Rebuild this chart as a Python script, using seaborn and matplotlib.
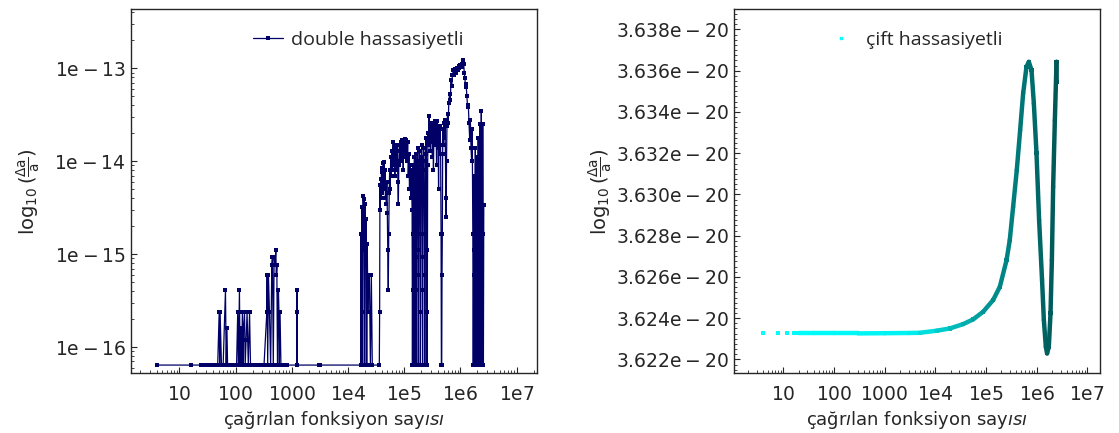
import numpy as np
import matplotlib
matplotlib.use("Agg")
import matplotlib.pyplot as plt
import seaborn as sns
from matplotlib.collections import LineCollection
from matplotlib.colors import LinearSegmentedColormap, Normalize
from matplotlib.lines import Line2D
from matplotlib.ticker import FixedLocator, FuncFormatter, LogLocator, NullFormatter, MultipleLocator


# double precision run: relative error vs number of calls
# (calls with zero error are not drawn on the log axis)
F = 6.4e-17  # smallest non-zero error level

low_calls = [
    4, 16, 24, 28, 32, 36, 40, 44, 48, 51, 52, 53, 56, 60, 66, 68, 70, 72, 80, 88,
    96, 104, 109, 112, 117, 120, 124, 128, 132, 136, 138, 144, 148, 154, 160, 168,
    177, 184, 208, 240, 280, 320, 359, 364, 372, 384, 400, 420, 440, 452, 468, 484,
    500, 519, 530, 541, 556, 578, 590, 600, 617, 640, 700, 813, 1228, 1232, 1236,
    1240, 3090, 3200,
]
low_err = [
    F, F, F, F, F, F, F, F, F, 2.36e-16, F, 2.36e-16, F, F, 4.1e-16, F, 1.62e-16, F, F, F,
    F, F, 2.36e-16, F, 4.1e-16, F, 1.62e-16, F, 2.36e-16, F, 1.55e-16, 2.36e-16, F,
    1.2e-16, 2.36e-16, F,
    2.36e-16, F, F, F, F, F, 2.36e-16, 5.9e-16, F, 5.9e-16, 2.36e-16, F, 7.6e-16,
    9.3e-16, F, 9.3e-16,
    7.6e-16, 1.1e-15, 5.9e-16, 7.6e-16, F, 4.1e-16, 2.36e-16, F, 2.36e-16, F, F, F,
    F, 4.1e-16, 2.36e-16,
    F, F, F,
]

mid_calls = [
    16800, 16900, 17100, 17400, 17800, 18200, 18600, 19000, 19400, 19800, 20200,
    20600, 21000, 21500, 22000, 22500, 23000, 24000, 25000, 26000, 27000,
    36000, 36500, 37000, 37500, 38000, 38700, 39400, 40100, 40800, 41500, 42300,
    43100, 43900, 44700, 45500, 46300, 47200, 48100, 49000, 50000, 51000, 52000,
    53000, 54000, 55000, 56000, 57500, 59000, 60500, 62000, 63500, 65000, 66500,
    68000, 69500, 71000, 72500, 74000, 75500, 77000, 78500, 80000, 82000, 84000,
    86000, 88000, 90000, 92000, 94000, 96000, 98000, 100000, 103000, 106000,
    109000, 112000, 115000, 118000, 121000, 124000, 127000, 130000, 134000, 138000,
]
mid_err = [
    F, 1.66e-15, F, 2.36e-16, 3.2e-15, F, 4.2e-15, 1.1e-15, 3.9e-15, F, 3.5e-15,
    7.6e-16, 2.4e-15, F, 1.3e-15, 2.36e-16, 5.9e-16, 5.9e-16, F, 5.9e-16, F,
    F, 2.36e-16, 5.6e-15, 3e-15, 6.5e-15, 4e-15, 7.6e-15, 4.5e-15, 8.5e-15, 5e-15,
    9.5e-15,
    6e-15, 9.8e-15, 5.5e-15, 8e-15, 4e-15, 6e-15, 3.5e-15, 6e-15, 2.8e-15, 1.1e-15,
    4.1e-16,
    1.66e-15, 4.5e-15, 8e-15, 5e-15, 1.1e-14, 7e-15, 1.3e-14, 8e-15, 1.6e-14, 9e-15,
    1.4e-14,
    7e-15, 1.5e-14, 9e-15, 1.4e-14, 8e-15, 1.3e-14, 6e-15, 3.5e-15, 9e-15, 1.5e-14,
    1e-14,
    1.6e-14, 1.1e-14, 1.7e-14, 1e-14, 1.5e-14, 8e-15, 1.7e-14, 1.1e-14, 1.75e-14,
    1.2e-14,
    1.7e-14, 1e-14, 1.6e-14, 7e-15, 1.2e-14, 5e-15, 9e-15, 4e-15, 8e-15, 3e-15,
]

high_calls = [
    140000, 141000, 142000, 143500, 145000, 146500, 147500, 148500, 150000, 152000,
    154000, 155000, 156500, 158000, 160000, 162000, 164000, 165500, 167000, 169000,
    171000, 173000, 175500, 177500, 179000, 181000, 183000, 186000, 189000, 192000,
    194000, 196000, 198000, 201000, 204000, 207000, 210000, 212000, 214000, 217000,
    221000, 225000, 229000, 232000, 235000, 239000, 243000, 247000, 251000, 254000,
    257000, 261000, 265000, 270000, 275000, 280000, 286000, 292000, 298000, 304000,
    310000, 317000, 324000, 331000, 338000, 345000, 352000, 360000, 368000, 376000,
    384000, 392000, 400000, 408000, 416000, 425000, 434000, 443000, 452000, 458000,
    464000, 470000, 476000, 482000, 490000, 500000, 510000, 520000, 530000, 540000,
    550000, 557000, 565000, 575000, 590000, 605000, 620000, 640000, 660000, 680000,
    700000, 720000, 750000, 780000, 810000, 840000, 870000, 900000, 930000, 960000,
    990000, 1020000, 1050000, 1080000, 1110000, 1140000, 1170000, 1200000, 1230000,
    1260000, 1300000, 1340000, 1380000, 1420000, 1460000, 1500000, 1540000, 1580000,
    1620000, 1660000, 1690000, 1710000, 1740000, 1770000, 1790000, 1810000, 1840000,
    1870000, 1890000, 1920000, 1950000, 1980000, 2000000, 2030000, 2070000, 2110000,
    2140000, 2170000, 2210000, 2250000, 2280000, 2310000, 2350000, 2390000, 2420000,
    2450000, 2490000, 2530000, 2560000, 2600000,
]
high_err = [
    F, 4.1e-16, 1.66e-15, 9e-15, 5e-15, 1.1e-15, F, 5.9e-16, 7e-15, 1.1e-14,
    2.36e-16, F, 1.66e-15, 6e-15, 1.2e-14, 8e-15, 9.3e-16, F, 4.1e-16, 5e-15,
    1e-14, 1.4e-14, 7e-15, 1.1e-15, F, 5.9e-16, 8e-15, 1.3e-14, 1e-14, 1.66e-15,
    F, 2.36e-16, 6e-15, 1.1e-14, 1.5e-14, 9e-15, 9.3e-16, F, 4.1e-16, 8e-15,
    1.4e-14, 1e-14, 1.66e-15, F, 5.9e-16, 1e-14, 1.8e-14, 1.2e-14, 1.1e-15, F,
    2.36e-16, 9e-15, 2e-14, 1.5e-14, 3.1e-14, 1.8e-14, 2.4e-14, 1.3e-14, 2.6e-14,
    1.6e-14,
    2.3e-14, 1.1e-14, 2.2e-14, 8e-15, 2.5e-14, 1.5e-14, 2.7e-14, 1.6e-14, 2.5e-14,
    9e-15,
    2.7e-14, 1.4e-14, 2.2e-14, 5e-15, 2e-14, 1.2e-14, 2.4e-14, 1.5e-14, 1.66e-15, F,
    F, 5.9e-16, 1.66e-15, 1.2e-14, 2.2e-14, 1.5e-14, 2.6e-14, 1.8e-14, 2.8e-14,
    1.2e-14,
    4e-15, 2.5e-15, 1e-14, 2.4e-14, 3.2e-14, 2.6e-14, 4.2e-14, 5.3e-14, 4.6e-14,
    7.5e-14,
    6.5e-14, 8.5e-14, 9.5e-14, 8.4e-14, 9.8e-14, 9e-14, 1.02e-13, 9.6e-14, 1.05e-13,
    1e-13,
    1.08e-13, 1.03e-13, 1.1e-13, 1.04e-13, 1.22e-13, 1.12e-13, 9e-14, 7.8e-14,
    6.3e-14,
    6.8e-14, 5e-14, 3.8e-14, 4e-14, 2.6e-14, 1.7e-14, 2.8e-14, 1.4e-14, 1e-14,
    2.2e-14, 1.66e-15, F, 5.9e-16, 7e-15, 1.1e-15, F, 9.3e-16, 1.4e-14,
    4.1e-16, F, 1.66e-15, 1.1e-14, 5.9e-16, F, 2.36e-16, 1.8e-14, 1.1e-15,
    F, 9.3e-16, 2.5e-14, 1.66e-15, F, 5.9e-16, 3.5e-14, 1.1e-15, F,
    4.1e-16, 2.5e-14, 1.66e-15, F, 3.4e-15,
]

double_calls = low_calls + mid_calls + high_calls
double_err = low_err + mid_err + high_err

# single precision run: error vs number of calls
float_calls = [
    4, 8, 12, 16, 20, 40, 100, 300, 1000, 3000, 4970, 10600, 19400, 35500, 55800,
    88200, 138700, 188000, 255000, 295000, 344000, 406000, 473000, 542000, 631000,
    702000, 793000, 882000, 995000, 1120000, 1280000, 1390000, 1520000, 1610000,
    1740000, 1880000, 2000000, 2120000, 2290000, 2470000, 2480000,
]
float_err = [
    3.62326e-20, 3.62326e-20, 3.62326e-20, 3.62326e-20, 3.62326e-20, 3.62326e-20,
    3.62326e-20, 3.62326e-20, 3.62327e-20, 3.62328e-20, 3.62329e-20, 3.62339e-20,
    3.62350e-20, 3.62371e-20, 3.62394e-20, 3.62431e-20, 3.62488e-20, 3.62552e-20,
    3.62681e-20, 3.62778e-20, 3.62940e-20, 3.63118e-20, 3.63312e-20, 3.63490e-20,
    3.63619e-20, 3.63643e-20, 3.63603e-20, 3.63441e-20, 3.63199e-20, 3.62875e-20,
    3.62585e-20, 3.62391e-20, 3.62261e-20, 3.62229e-20, 3.62261e-20, 3.62423e-20,
    3.62681e-20, 3.63037e-20, 3.63360e-20, 3.63643e-20, 3.63546e-20,
]

x_ticks = [10, 100, 1000, 1e4, 1e5, 1e6, 1e7]
x_tick_labels = ["10", "100", "1000", "1e4", "1e5", "1e6", "1e7"]
left_y_ticks = [1e-16, 1e-15, 1e-14, 1e-13]
left_y_labels = ["1e-16", "1e-15", "1e-14", "1e-13"]
right_y_ticks = [3.622e-20, 3.624e-20, 3.626e-20, 3.628e-20, 3.630e-20,
                 3.632e-20, 3.634e-20, 3.636e-20, 3.638e-20]

sns.set_style("white")
plt.rcParams["font.family"] = ["DejaVu Sans"]
plt.rcParams["mathtext.fontset"] = "dejavusans"

LINE_COLOR = "#000066"
TEXT_COLOR = "#262626"
TICK_SIZE = 13.5
LEGEND_FONT = {"family": "Open Sans", "size": 14}
XLABEL = "çağr$ı$lan fonksiyon say$ısı$"
YLABEL = r"$\log_{10}(\frac{\Delta \mathrm{a}}{\mathrm{a}})$"


def math_label(s):
    # "1e-13" -> mathtext with upright e and spaced minus
    return "$" + s.replace("e", r"\mathrm{e}") + "$"


def style_axis(ax, ylabelpad):
    for sp in ax.spines.values():
        sp.set_color(TEXT_COLOR)
        sp.set_linewidth(1.0)
    ax.tick_params(which="both", direction="in", top=False, right=False,
                   left=True, bottom=True, colors=TEXT_COLOR)
    ax.tick_params(which="major", length=4, width=0.8, labelsize=TICK_SIZE,
                   labelcolor=TEXT_COLOR)
    ax.tick_params(axis="x", which="major", pad=9)
    ax.tick_params(which="minor", length=2, width=0.6)
    ax.set_xscale("log")
    ax.xaxis.set_major_locator(FixedLocator(x_ticks))
    ax.xaxis.set_major_formatter(FuncFormatter(
        lambda v, p: math_label(x_tick_labels[x_ticks.index(v)]) if v in x_ticks else ""))
    ax.xaxis.set_minor_locator(LogLocator(base=10, subs=np.arange(2, 10), numticks=20))
    ax.xaxis.set_minor_formatter(NullFormatter())
    ax.set_xlabel(XLABEL, fontsize=13, color=TEXT_COLOR, labelpad=3)
    ax.set_ylabel(YLABEL, fontsize=14, color=TEXT_COLOR, labelpad=ylabelpad)


fig = plt.figure(figsize=(11.19, 4.33), dpi=100)
ax1 = fig.add_axes([0.1168, 0.1386, 0.3628, 0.8395])
ax2 = fig.add_axes([0.656, 0.1386, 0.327, 0.8395])

# left panel: double precision
sns.lineplot(x=double_calls, y=double_err, sort=False, estimator=None,
             marker="s", markersize=2.6, markeredgewidth=0, color=LINE_COLOR,
             linewidth=0.9, label="double hassasiyetli", ax=ax1)
ax1.set_yscale("log")
style_axis(ax1, 9)
ax1.set_xlim(1.36, 2.27e7)
ax1.set_ylim(5.26e-17, 4.3e-13)
ax1.yaxis.set_major_locator(FixedLocator(left_y_ticks))
ax1.yaxis.set_major_formatter(FuncFormatter(
    lambda v, p: math_label(left_y_labels[left_y_ticks.index(v)]) if v in left_y_ticks else ""))
ax1.yaxis.set_minor_locator(LogLocator(base=10, subs=np.arange(2, 10), numticks=20))
ax1.yaxis.set_minor_formatter(NullFormatter())
ax1.legend(loc="upper center", bbox_to_anchor=(0.56, 0.99), frameon=False,
           prop=LEGEND_FONT, handlelength=1.55, handletextpad=0.4)

# right panel: single precision, coloured by position along the run
cmap = LinearSegmentedColormap.from_list("cyan_teal", [
    (0.0, "#00ffff"), (0.5, "#00f2f2"), (0.66, "#00baba"), (0.79, "#008c8c"),
    (0.9, "#007272"), (1.0, "#005858")])
norm = Normalize(vmin=0.6, vmax=6.4)
logx = np.log10(float_calls)

pts = np.column_stack([float_calls, float_err])
keep = np.array(float_calls) >= 20
seg_pts = pts[keep]
segs = np.stack([seg_pts[:-1], seg_pts[1:]], axis=1)
mid = 0.5 * (logx[keep][:-1] + logx[keep][1:])
lc = LineCollection(segs, colors=cmap(norm(mid)), linewidths=3.2, capstyle="round")
ax2.add_collection(lc)

sns.scatterplot(x=float_calls, y=float_err, hue=logx, palette=cmap, hue_norm=norm,
                marker="s", s=9, linewidth=0, legend=False, ax=ax2)
style_axis(ax2, 2)
ax2.set_xlim(1.07, 1.78e7)
ax2.set_ylim(3.62134e-20, 3.63897e-20)
ax2.yaxis.set_major_locator(FixedLocator(right_y_ticks))
ax2.yaxis.set_major_formatter(FuncFormatter(
    lambda v, p: math_label(f"{v * 1e20:.3f}e-20")))
ax2.yaxis.set_minor_locator(MultipleLocator(0.00025e-20))
handle = Line2D([], [], marker="s", linestyle="", color="#00ffff", markersize=2)
ax2.legend([handle], ["çift hassasiyetli"], loc="upper center",
           bbox_to_anchor=(0.5, 0.99), frameon=False,
           prop=LEGEND_FONT, handlelength=1.0, handletextpad=0.75)

fig.savefig("out.png", dpi=100)
